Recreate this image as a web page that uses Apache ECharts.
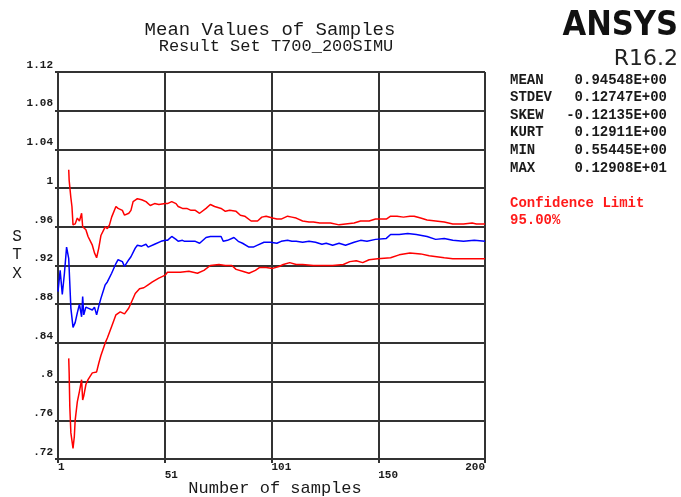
<!DOCTYPE html>
<html>
<head>
<meta charset="utf-8">
<script src="https://cdn.jsdelivr.net/npm/echarts@6/dist/echarts.min.js"></script>
<style>
html,body{margin:0;padding:0;background:#fff;}
#chart{width:681px;height:497px;}
</style>
</head>
<body>
<div id="chart"></div>
<script>
// ---- data ----
var xTickLabels = ['1', '51', '101', '150', '200'];
var yTickLabels = ['.72', '.76', '.8', '.84', '.88', '.92', '.96', '1', '1.04', '1.08', '1.12'];

// [sample number, value]
var meanValues = [
  [1,0.893],[2,0.915],[3,0.890],[4,0.912],[5,0.939],[6,0.927],[7,0.876],[8,0.856],[9,0.861],
  [10,0.871],[11,0.880],[12,0.867],[12.5,0.888],[13,0.869],[14,0.877],[15,0.876],[17,0.874],[18,0.877],
  [19,0.869],[20,0.878],[21,0.886],[23,0.900],[24,0.903],[26,0.912],[28,0.922],[29,0.926],[31,0.924],
  [32,0.919],[34,0.926],[35,0.929],[37,0.938],[38,0.941],[40,0.940],[42,0.942],[43,0.939],[46,0.942],
  [49,0.945],[51,0.946],[52,0.946],[54,0.950],[56,0.947],[57,0.945],[59,0.946],[60,0.945],[63,0.945],
  [65,0.945],[67,0.943],[70,0.949],[72,0.950],[77,0.950],[78,0.945],[80,0.946],[83,0.949],[85,0.945],
  [87,0.943],[90,0.939],[92,0.939],[94,0.941],[97,0.944],[100,0.944],[103,0.943],[105,0.945],[108,0.946],
  [110,0.945],[112,0.945],[115,0.944],[118,0.945],[121,0.944],[124,0.942],[126,0.943],[129,0.941],[132,0.943],
  [135,0.941],[139,0.944],[142,0.946],[145,0.945],[149,0.947],[154,0.948],[156,0.952],[160,0.952],[164,0.953],
  [168,0.952],[173,0.950],[177,0.947],[181,0.948],[185,0.946],[190,0.945],[195,0.946],[200,0.945]
];
var upperLimit = [
  [6,1.019],[6.2,1.008],[7,0.990],[7.5,0.981],[8,0.962],[9,0.963],[10,0.969],[11,0.966],[12,0.974],
  [12.5,0.960],[14,0.957],[15,0.950],[17,0.941],[18,0.933],[19,0.928],[20,0.938],[21,0.951],[23,0.960],
  [24,0.958],[25,0.962],[26,0.970],[28,0.981],[29,0.979],[31,0.977],[32,0.972],[34,0.974],[35,0.977],
  [36,0.986],[38,0.989],[40,0.988],[42,0.986],[44,0.982],[46,0.984],[48,0.983],[51,0.984],[52,0.984],
  [54,0.986],[56,0.984],[57,0.981],[59,0.979],[61,0.979],[63,0.977],[65,0.977],[67,0.974],[70,0.979],
  [72,0.983],[74,0.981],[77,0.979],[79,0.976],[81,0.977],[84,0.976],[86,0.972],[88,0.971],[91,0.966],
  [94,0.966],[96,0.970],[98,0.971],[101,0.969],[103,0.968],[105,0.968],[108,0.971],[110,0.970],[112,0.969],
  [115,0.966],[118,0.965],[120,0.965],[123,0.964],[128,0.964],[132,0.962],[135,0.963],[139,0.964],[142,0.966],
  [146,0.966],[149,0.968],[154,0.968],[156,0.971],[159,0.971],[162,0.970],[165,0.971],[167,0.971],[170,0.969],
  [173,0.967],[177,0.966],[181,0.965],[185,0.963],[190,0.963],[194,0.964],[196,0.963],[200,0.963]
];
var lowerLimit = [
  [6,0.824],[6.2,0.809],[6.5,0.774],[7,0.747],[8,0.731],[8.6,0.743],[9,0.760],[10,0.779],[11,0.790],
  [12,0.802],[12.5,0.781],[13,0.785],[14,0.797],[15,0.802],[17,0.809],[19,0.810],[20,0.819],[21,0.827],
  [23,0.840],[24,0.845],[26,0.857],[28,0.869],[30,0.872],[32,0.870],[34,0.876],[35,0.881],[37,0.891],
  [39,0.896],[41,0.897],[43,0.900],[45,0.903],[48,0.907],[51,0.910],[52,0.913],[58,0.913],[62,0.914],
  [66,0.912],[69,0.915],[72,0.920],[76,0.921],[79,0.920],[82,0.920],[84,0.916],[87,0.914],[90,0.912],
  [93,0.915],[95,0.918],[98,0.918],[101,0.917],[104,0.919],[106,0.921],[109,0.923],[112,0.921],[115,0.921],
  [120,0.920],[123,0.920],[129,0.920],[134,0.921],[137,0.924],[140,0.925],[143,0.923],[146,0.926],[150,0.927],
  [156,0.928],[160,0.931],[165,0.933],[170,0.932],[174,0.930],[181,0.928],[185,0.927],[190,0.927],[195,0.927],
  [200,0.927]
];
var statNames = ['MEAN', 'STDEV', 'SKEW', 'KURT', 'MIN', 'MAX'];
var statValues = ['0.94548E+00', '0.12747E+00', '-0.12135E+00', '0.12911E+00', '0.55445E+00', '0.12908E+01'];

// ---- chart ----
var mono = '"Liberation Mono", "Courier New", monospace';
var gridColor = '#333';
var textColor = '#1a1a1a';

var graphics = [
  {type:'text', x:270, y:30, style:{text:'Mean Values of Samples', font:'19px ' + mono, fill:textColor, textAlign:'center', textVerticalAlign:'middle'}},
  {type:'text', x:276, y:46, style:{text:'Result Set T700_200SIMU', font:'17px ' + mono, fill:textColor, textAlign:'center', textVerticalAlign:'middle'}},
  {type:'text', x:678, y:26, style:{text:'ANSYS', font:'bold 34px "DejaVu Sans Condensed", "DejaVu Sans", sans-serif', fill:'#111', textAlign:'right', textVerticalAlign:'middle'}},
  {type:'text', x:678, y:59, style:{text:'R16.2', font:'22px "DejaVu Sans", sans-serif', fill:'#222', textAlign:'right', textVerticalAlign:'middle'}},
  {type:'text', x:17, y:227, style:{text:'S\nT\nX', font:'16px ' + mono, fill:textColor, textAlign:'center', textVerticalAlign:'top', lineHeight:18.7}},
  {type:'text', x:275, y:488, style:{text:'Number of samples', font:'17px ' + mono, fill:textColor, textAlign:'center', textVerticalAlign:'middle'}},
  {type:'text', x:510, y:203, style:{text:'Confidence Limit', font:'bold 14px ' + mono, fill:'#ff1a1a', textAlign:'left', textVerticalAlign:'middle'}},
  {type:'text', x:510, y:220, style:{text:'95.00%', font:'bold 14px ' + mono, fill:'#ff1a1a', textAlign:'left', textVerticalAlign:'middle'}}
];
for (var i = 0; i < statNames.length; i++) {
  var yy = 80 + i * 17.6;
  graphics.push({type:'text', x:510, y:yy, style:{text:statNames[i], font:'bold 14px ' + mono, fill:textColor, textAlign:'left', textVerticalAlign:'middle'}});
  graphics.push({type:'text', x:667, y:yy, style:{text:statValues[i], font:'bold 14px ' + mono, fill:textColor, textAlign:'right', textVerticalAlign:'middle'}});
}

var chart = echarts.init(document.getElementById('chart'), null, {renderer:'canvas'});
chart.setOption({
  backgroundColor:'#fff',
  animation:false,
  grid:{left:58, right:196, top:72, bottom:38, containLabel:false},
  xAxis:[
    {type:'value', min:1, max:200, show:false},
    {type:'value', min:0, max:4, interval:1, position:'bottom',
      axisLine:{show:true, lineStyle:{color:gridColor, width:2}},
      axisTick:{show:true, length:4, lineStyle:{color:gridColor, width:2}},
      splitLine:{show:true, lineStyle:{color:gridColor, width:2}},
      axisLabel:{
        show:true, margin:4, align:'left', alignMaxLabel:'right',
        fontFamily:'Liberation Mono', fontWeight:'bold', fontSize:11, color:textColor, lineHeight:8,
        formatter:function(v){ var k = Math.round(v); var s = xTickLabels[k]; return (k % 2 === 1) ? (' \n' + s) : s; }
      }
    }
  ],
  yAxis:{
    type:'value', min:0.72, max:1.12, interval:0.04,
    axisLine:{show:true, lineStyle:{color:gridColor, width:2}},
    axisTick:{show:true, length:3, lineStyle:{color:gridColor, width:2}},
    splitLine:{show:true, lineStyle:{color:gridColor, width:2}},
    axisLabel:{
      show:true, margin:5, verticalAlign:'bottom', lineHeight:14,
      fontFamily:'Liberation Mono', fontWeight:'bold', fontSize:11, color:textColor,
      formatter:function(v){ return yTickLabels[Math.round((v - 0.72) / 0.04)]; }
    }
  },
  series:[
    {type:'line', xAxisIndex:0, data:upperLimit, showSymbol:false, symbol:'none', lineStyle:{color:'#ff0000', width:1.5}, itemStyle:{color:'#ff0000'}, z:3},
    {type:'line', xAxisIndex:0, data:meanValues, showSymbol:false, symbol:'none', lineStyle:{color:'#0000ff', width:1.5}, itemStyle:{color:'#0000ff'}, z:3},
    {type:'line', xAxisIndex:0, data:lowerLimit, showSymbol:false, symbol:'none', lineStyle:{color:'#ff0000', width:1.5}, itemStyle:{color:'#ff0000'}, z:3}
  ],
  graphic:graphics
});
</script>
</body>
</html>
